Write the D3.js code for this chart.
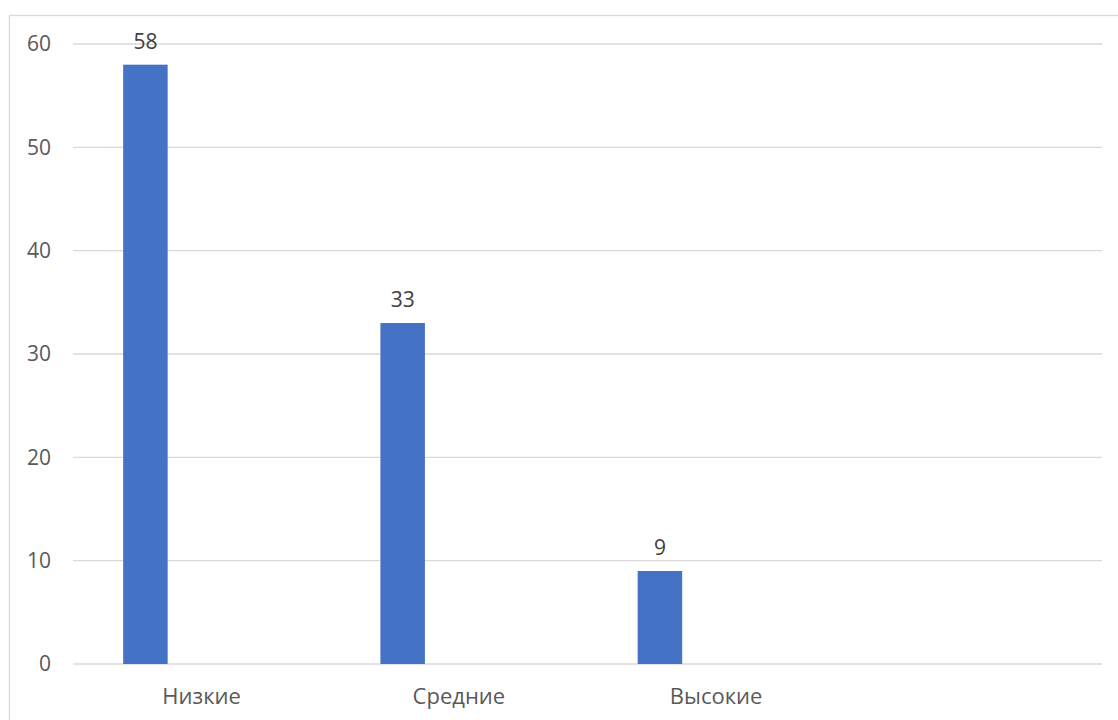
<!DOCTYPE html>
<html>
<head>
<meta charset="utf-8">
<script src="https://cdn.jsdelivr.net/npm/d3@7"></script>
<style>
  body { margin: 0; background: #fff; }
  text { font-family: "Open Sans", "Noto Sans", sans-serif; }
</style>
</head>
<body>
<div id="chart"></div>
<script>
var categories = ["Низкие", "Средние", "Высокие", ""];
var values = [58, 33, 9, null];
var yTicks = [0, 10, 20, 30, 40, 50, 60];

var svgWidth = 1118;
var svgHeight = 720;

var margin = { top: 44, right: 16, bottom: 56, left: 73 };
var width = svgWidth - margin.left - margin.right;
var height = svgHeight - margin.top - margin.bottom;

var svg = d3.select("#chart")
  .append("svg")
  .attr("width", svgWidth)
  .attr("height", svgHeight);

// chart frame (runs past the window on the right and bottom)
svg.append("rect")
  .attr("x", 9.5)
  .attr("y", 15.5)
  .attr("width", svgWidth + 20)
  .attr("height", svgHeight + 20)
  .attr("fill", "none")
  .attr("stroke", "#d9d9d9")
  .attr("stroke-width", 1.3);

var chartGroup = svg.append("g")
  .attr("transform", `translate(${margin.left}, ${margin.top})`);

var xScale = d3.scaleBand()
  .domain(categories.map((d, i) => i))
  .range([0, width])
  .padding(0);

var yScale = d3.scaleLinear()
  .domain([0, 60])
  .range([height, 0]);

// gridlines
chartGroup.selectAll(".grid")
  .data(yTicks)
  .enter()
  .append("line")
  .attr("x1", 0)
  .attr("x2", width)
  .attr("y1", d => yScale(d))
  .attr("y2", d => yScale(d))
  .attr("stroke", "#d9d9d9")
  .attr("stroke-width", 1.4);

// y axis labels
var leftAxis = d3.axisLeft(yScale).tickValues(yTicks).tickSize(0).tickPadding(22);
var yAxisG = chartGroup.append("g").call(leftAxis);
yAxisG.select(".domain").remove();
yAxisG.selectAll("text")
  .attr("fill", "#595959")
  .style("font-size", "21px")
  .style("font-family", "'Open Sans', 'Noto Sans', sans-serif");

// x axis labels
var bottomAxis = d3.axisBottom(xScale).tickFormat(i => categories[i]).tickSize(0).tickPadding(24);
var xAxisG = chartGroup.append("g")
  .attr("transform", `translate(0, ${height})`)
  .call(bottomAxis);
xAxisG.select(".domain").remove();
xAxisG.selectAll("text")
  .attr("fill", "#595959")
  .style("font-size", "22px")
  .style("font-family", "'Open Sans', 'Noto Sans', sans-serif");

// bar sits in the left part of each category slot
var barOffset = 0.195;
var barWidth = 0.173;

var data = values.map((v, i) => ({ i: i, v: v })).filter(d => d.v != null);

chartGroup.selectAll(".bar")
  .data(data)
  .enter()
  .append("rect")
  .attr("x", d => xScale(d.i) + xScale.bandwidth() * barOffset)
  .attr("width", xScale.bandwidth() * barWidth)
  .attr("y", d => yScale(d.v))
  .attr("height", d => height - yScale(d.v))
  .attr("fill", "#4472c4");

chartGroup.selectAll(".label")
  .data(data)
  .enter()
  .append("text")
  .attr("x", d => xScale(d.i) + xScale.bandwidth() * (barOffset + barWidth / 2))
  .attr("y", d => yScale(d.v) - 16)
  .attr("text-anchor", "middle")
  .attr("fill", "#404040")
  .style("font-size", "21px")
  .text(d => d.v);
</script>
</body>
</html>
